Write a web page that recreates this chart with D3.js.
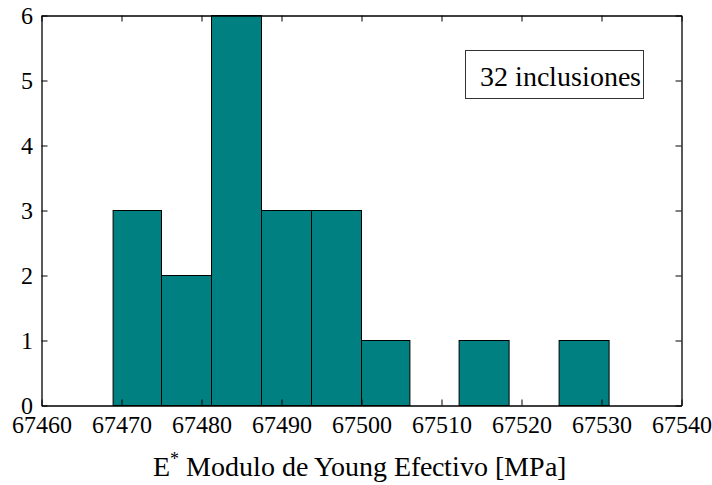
<!DOCTYPE html>
<html>
<head>
<meta charset="utf-8">
<script src="https://cdn.jsdelivr.net/npm/d3@7"></script>
<style>
  @font-face { font-family: "ChartSerif"; src: local("Liberation Serif"), local("LiberationSerif"), local("Times New Roman"); }
  body { margin: 0; background: #fff; }
  svg text, svg tspan { font-family: "ChartSerif", "Liberation Serif", "Times New Roman", serif !important; }
</style>
</head>
<body>
<div id="chart"></div>
<script>
// histogram bins
const binEdges = [67468.95, 67475.0, 67481.25, 67487.5, 67493.75, 67500.0, 67506.05, 67512.2, 67518.45, 67524.7, 67530.95];
const counts = [3, 2, 6, 3, 3, 1, 0, 1, 0, 1];
const xTicks = [67460, 67470, 67480, 67490, 67500, 67510, 67520, 67530, 67540];
const yTicks = [0, 1, 2, 3, 4, 5, 6];
const legendText = '32 inclusiones';

const serif = 'Liberation Serif';
const width = 712;
const height = 485;
const plot = { left: 41.5, right: 681.5, top: 15.5, bottom: 405.5 };

const svg = d3.select('#chart')
    .append('svg')
    .attr('width', width)
    .attr('height', height);

const x = d3.scaleLinear().domain([67460, 67540]).range([plot.left, plot.right]);
const y = d3.scaleLinear().domain([0, 6]).range([plot.bottom, plot.top]);

const bins = counts.map((c, i) => ({ x0: binEdges[i], x1: binEdges[i + 1], count: c }));

svg.selectAll('.bar')
    .data(bins.filter(d => d.count > 0))
    .enter()
    .append('rect')
    .attr('class', 'bar')
    .attr('x', d => x(d.x0))
    .attr('y', d => y(d.count))
    .attr('width', d => x(d.x1) - x(d.x0))
    .attr('height', d => y(0) - y(d.count))
    .attr('fill', '#008080')
    .attr('stroke', '#000')
    .attr('stroke-width', 1);

// box axes with inward ticks; tick labels as plain texts
const tickLen = 6;
const axes = [
    svg.append('g').attr('transform', `translate(0,${plot.bottom})`)
        .call(d3.axisBottom(x).tickValues(xTicks).tickSizeInner(-tickLen).tickSizeOuter(0).tickFormat('')),
    svg.append('g').attr('transform', `translate(0,${plot.top})`)
        .call(d3.axisTop(x).tickValues(xTicks).tickSizeInner(-tickLen).tickSizeOuter(0).tickFormat('')),
    svg.append('g').attr('transform', `translate(${plot.left},0)`)
        .call(d3.axisLeft(y).tickValues(yTicks).tickSizeInner(-tickLen).tickSizeOuter(0).tickFormat('')),
    svg.append('g').attr('transform', `translate(${plot.right},0)`)
        .call(d3.axisRight(y).tickValues(yTicks).tickSizeInner(-tickLen).tickSizeOuter(0).tickFormat(''))
];
axes.forEach(g => {
    g.attr('font-family', null).attr('font-size', null);
    g.selectAll('.tick text').remove();
    g.select('.domain').attr('stroke', '#000').attr('stroke-width', 1.3);
    g.selectAll('.tick line').attr('stroke', '#000').attr('stroke-width', 1);
});

svg.selectAll('.xlab')
    .data(xTicks)
    .enter()
    .append('text')
    .attr('class', 'xlab')
    .attr('x', d => x(d))
    .attr('y', plot.bottom + 27)
    .attr('text-anchor', 'middle')
    .attr('font-family', serif)
    .attr('font-size', 24)
    .text(d => d);

svg.selectAll('.ylab')
    .data(yTicks)
    .enter()
    .append('text')
    .attr('class', 'ylab')
    .attr('x', plot.left - 9)
    .attr('y', d => y(d) + 8)
    .attr('text-anchor', 'end')
    .attr('font-family', serif)
    .attr('font-size', 24)
    .text(d => d);

// x label with superscript
const xl = svg.append('text')
    .attr('x', (plot.left + plot.right) / 2 - 2)
    .attr('y', 476)
    .attr('text-anchor', 'middle')
    .attr('font-family', serif)
    .attr('font-size', 28);
xl.append('tspan').text('E');
xl.append('tspan').attr('dy', -12).attr('font-size', 18).text('*');
xl.append('tspan').attr('dy', 12).text(' Modulo de Young Efectivo [MPa]');

// legend box
svg.append('rect')
    .attr('x', 465.5)
    .attr('y', 50.5)
    .attr('width', 178)
    .attr('height', 48)
    .attr('fill', '#fff')
    .attr('stroke', '#333')
    .attr('stroke-width', 1);
svg.append('text')
    .attr('x', 480)
    .attr('y', 85.5)
    .attr('font-family', serif)
    .attr('font-size', 28)
    .text(legendText);
</script>
</body>
</html>
